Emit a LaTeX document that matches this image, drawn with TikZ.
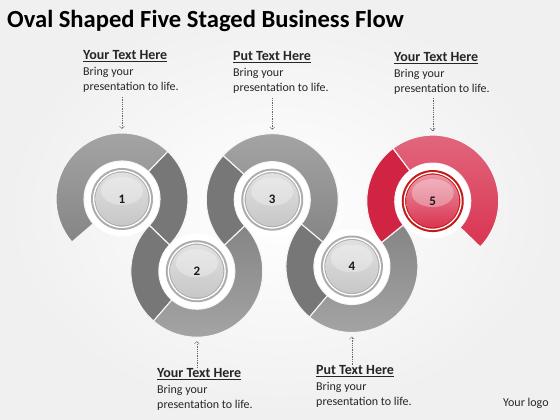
\documentclass[tikz,border=0pt]{standalone}
\usepackage{fontspec}
\setmainfont{Carlito}
\usetikzlibrary{calc,arrows.meta}

\definecolor{greytop}{HTML}{A6A6A6}
\definecolor{greyside}{HTML}{858585}
\definecolor{greydark}{HTML}{777777}
\definecolor{redtop}{HTML}{E2697F}
\definecolor{redside}{HTML}{D93450}
\definecolor{reddark}{HTML}{D02442}

\tikzset{
  part/.style={draw=white!92!gray, line width=1.1pt},
  caption/.style={anchor=base west, align=left, inner sep=0pt,
    font=\fontsize{12}{15.5}\selectfont, text=black!85},
  pointer/.style={draw=black!60, dash pattern=on 1.3pt off 1pt,
    -{Straight Barb[length=2.5pt,width=5pt]}},
  num/.style={font=\fontsize{13}{13}\selectfont\bfseries, text=black!90}
}

% heading of a caption
\newcommand{\head}[1]{{\fontsize{14}{15.5}\selectfont\bfseries\underline{#1}}}

% one piece of a ring: centre, start, end, options
\newcommand{\ringpart}[4]{%
  \path[#4] ($(#1)+(#2:66)$) arc[start angle=#2, end angle=#3, radius=66]
    -- ($(#1)+(#3:38)$) arc[start angle=#3, end angle=#2, radius=38] -- cycle;}

% middle knob: centre, ring colour, top colour, bottom colour
\newcommand{\knob}[4]{%
  \fill[white] (#1) circle (37.5);
  \fill[#2] (#1) circle (31);
  \shade[top color=#3, bottom color=#4] (#1) circle (26.5);
  \draw[white, line width=1.3pt] (#1) circle (28.3);
  \fill[white, opacity=.3] ($(#1)+(0,8)$) ellipse[x radius=21, y radius=14];}

\begin{document}
\begin{tikzpicture}[x=1pt,y=1pt]
  % sfondo
  \useasboundingbox (0,0) rectangle (560,420);
  \shade[inner color=white, outer color=gray!12] (0,0) rectangle (560,420);

  % titolo
  \node[anchor=base west, inner sep=0pt, font=\fontsize{24.6}{24.6}\selectfont\bfseries]
    (title) at (7,392) {Oval Shaped Five Staged Business Flow};

  % centri
  \coordinate (c1) at (122,221);
  \coordinate (c2) at ($(c1)+(-44:104)$);
  \coordinate (c3) at ($(c2)+(43.5:104)$);
  \coordinate (c4) at ($(c3)+(-40:104)$);
  \coordinate (c5) at ($(c4)+(39:104)$);

  % anelli
  \ringpart{c1}{46}{220.7}{part, top color=greytop, bottom color=greyside}
  \ringpart{c1}{-44}{46}{part, fill=greydark}
  \ringpart{c2}{136}{229}{part, fill=greydark}
  \ringpart{c2}{229}{403.5}{part, top color=greyside, bottom color=greytop}
  \ringpart{c3}{138}{223.5}{part, fill=greydark}
  \ringpart{c3}{-40}{138}{part, top color=greytop, bottom color=greyside}
  \ringpart{c4}{140}{230}{part, fill=greydark}
  \ringpart{c4}{230}{399}{part, top color=greyside, bottom color=greytop}
  \ringpart{c5}{127}{219}{part, fill=reddark}
  \ringpart{c5}{-44}{127}{part, top color=redtop, bottom color=redside}

  % bottoni
  \knob{c1}{gray!64}{gray!24}{gray!44}
  \knob{c2}{gray!64}{gray!24}{gray!44}
  \knob{c3}{gray!64}{gray!24}{gray!44}
  \knob{c4}{gray!64}{gray!24}{gray!44}
  \knob{c5}{red!75!black!90}{redtop!70!white}{redside}

  \node[num] (n1) at (c1) {1};
  \node[num] (n2) at (c2) {2};
  \node[num] (n3) at (c3) {3};
  \node[num] (n4) at (c4) {4};
  \node[num] (n5) at (c5) {5};

  % testi (base = ultima riga)
  \node[caption] (t1) at (83,329) {\head{Your Text Here}\\Bring your\\presentation to life.};
  \node[caption] (t3) at (233,328) {\head{Put Text Here}\\Bring your\\presentation to life.};
  \node[caption] (t5) at (394,327) {\head{Your Text Here}\\Bring your\\presentation to life.};
  \node[caption] (t2) at (157,11) {\head{Your Text Here}\\Bring your\\presentation to life.};
  \node[caption] (t4) at (316,14) {\head{Put Text Here}\\Bring your\\presentation to life.};
  \node[caption] (logo) at (503,13) {Your logo};

  % frecce
  \coordinate (a1) at ($(c1)+(0,102)$); \coordinate (b1) at ($(c1)+(0,70)$);
  \coordinate (a3) at ($(c3)+(0,102)$); \coordinate (b3) at ($(c3)+(0,70)$);
  \coordinate (a5) at ($(c5)+(0,103)$); \coordinate (b5) at ($(c5)+(0,70)$);
  \coordinate (a2) at ($(c2)+(0,-97)$); \coordinate (b2) at ($(c2)+(0,-70)$);
  \coordinate (a4) at ($(c4)+(0,-98)$); \coordinate (b4) at ($(c4)+(0,-70)$);
  \draw[pointer] (a1) -- (b1);
  \draw[pointer] (a3) -- (b3);
  \draw[pointer] (a5) -- (b5);
  \draw[pointer] (a2) -- (b2);
  \draw[pointer] (a4) -- (b4);
\end{tikzpicture}
\end{document}
